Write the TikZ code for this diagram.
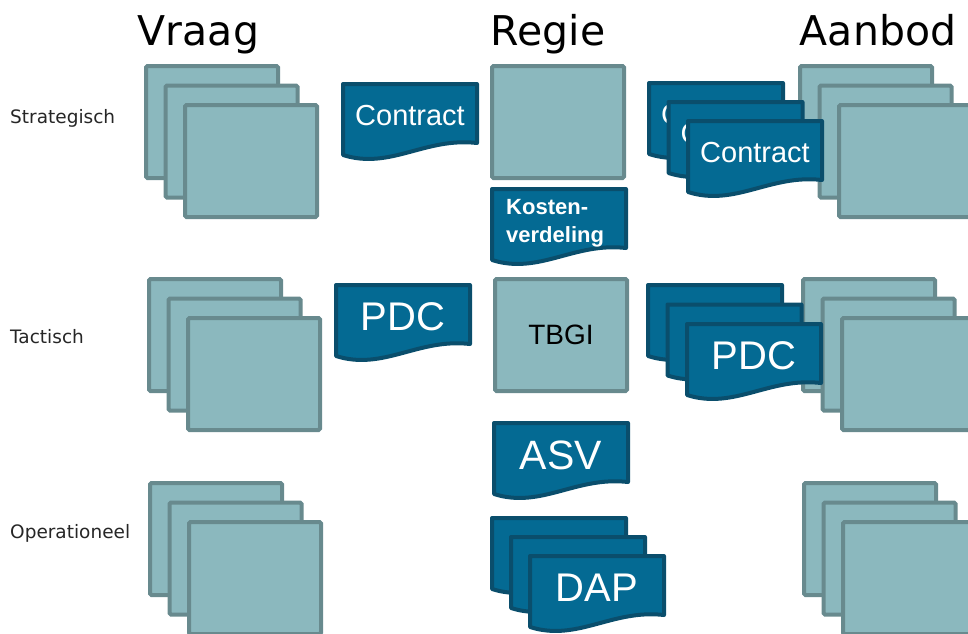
\documentclass[tikz,border=0pt]{standalone}
\usepackage{fontspec}
\setmainfont{Liberation Sans}
\newfontfamily\dejavu{DejaVu Sans}

\definecolor{panelfill}{HTML}{8BB8BE}
\definecolor{panelline}{HTML}{688A8E}
\definecolor{sheetfill}{HTML}{046A93}
\definecolor{sheetline}{HTML}{0A4E6C}

\tikzset{
  panel/.style={draw=panelline, fill=panelfill, line width=4pt, rounded corners=1.5pt,
    minimum width=132pt, minimum height=112pt, inner sep=0pt,
    font=\fontsize{28}{30}\selectfont, text=black},
  sheet/.style={draw=sheetline, fill=sheetfill, line width=4pt, line join=round},
  sheettext/.style={text=white, inner sep=0pt},
  heading/.style={font=\dejavu\fontsize{41}{45}\selectfont, anchor=base, inner sep=0pt},
  level/.style={font=\dejavu\fontsize{18.5}{20}\selectfont, anchor=base west, inner sep=0pt, text=black!85},
}

% a single panel: name, left, top, text
\newcommand\panelat[4]{\node[panel] (#1) at (#2+68,#3+58) {#4};}
% three panels fanned out to the lower right
\newcommand\panelstack[3]{%
  \panelat{#1-a}{#2}{#3}{}%
  \panelat{#1-b}{#2+19.5}{#3+19.5}{}%
  \panelat{#1-c}{#2+39}{#3+39}{}}
% outline of a document sheet with a wavy lower edge: left, top
\newcommand\sheetshape[2]{%
  \draw[sheet] (#1+2,#2+73) -- (#1+2,#2+2) -- (#1+136,#2+2) -- (#1+136,#2+61)
    .. controls (#1+84,#2+55) and (#1+49,#2+88) .. (#1+2,#2+73) -- cycle;}
% a document sheet with centred text: name, left, top, font, text
\newcommand\sheetat[5]{%
  \sheetshape{#2}{#3}%
  \node[sheettext, font=#4] (#1) at (#2+69,#3+34) {#5};}
% a document sheet half hidden in a pile, only the first letter peeks out
\newcommand\pilesheet[4]{%
  \sheetshape{#2}{#3}%
  \node[sheettext, font=\fontsize{29}{32}\selectfont, anchor=west] (#1) at (#2+14,#3+34) {#4};}

\begin{document}
\begin{tikzpicture}[x=1pt, y=-1pt]
  \useasboundingbox (0,0) rectangle (968,633);
  \clip (0,0) rectangle (968,633);

  % column headings
  \node[heading] (vraag) at (198.5,45) {Vraag};
  \node[heading] (regie) at (548,45) {Regie};
  \node[heading] (aanbod) at (878,45) {Aanbod};

  % row labels
  \node[level] (strat) at (10,123) {Strategisch};
  \node[level] (tact) at (10,343) {Tactisch};
  \node[level] (oper) at (10,538) {Operationeel};

  % demand side
  \panelstack{vs}{144}{64}
  \panelstack{vt}{147}{277}
  \panelstack{vo}{148}{481}

  % supply side
  \panelstack{as}{798}{64}
  \panelstack{at}{801}{277}
  \panelstack{ao}{802}{481}

  % governance column
  \panelat{rs}{490}{64}{}
  \panelat{tbgi}{493}{277}{TBGI}
  \sheetshape{490}{187}
  \node[sheettext, font=\bfseries\fontsize{22}{28}\selectfont, align=left, anchor=west]
    (kv) at (506,223) {Kosten-\\verdeling};
  \sheetat{asv}{492}{421}{\fontsize{41}{45}\selectfont}{ASV}
  \sheetshape{490}{516}
  \sheetshape{509}{535}
  \sheetat{dap}{528}{554}{\fontsize{40}{44}\selectfont}{DAP}

  % documents between demand and governance
  \sheetat{vcontract}{341}{82}{\fontsize{29}{32}\selectfont}{Contract}
  \sheetat{vpdc}{334}{283}{\fontsize{40}{44}\selectfont}{PDC}

  % documents between governance and supply
  \pilesheet{acontract-a}{647}{81}{C}
  \pilesheet{acontract-b}{666.5}{100}{C}
  \sheetat{acontract}{686}{119}{\fontsize{29}{32}\selectfont}{Contract}
  \sheetshape{646}{283}
  \sheetshape{665.5}{302.5}
  \sheetat{apdc}{685}{322}{\fontsize{40}{44}\selectfont}{PDC}
\end{tikzpicture}
\end{document}
